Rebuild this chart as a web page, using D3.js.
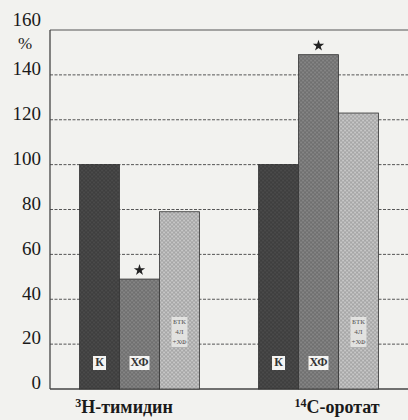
<!DOCTYPE html>
<html>
<head>
<meta charset="utf-8">
<script src="https://cdn.jsdelivr.net/npm/d3@7"></script>
<style>
  html, body { margin: 0; padding: 0; background: #f2f2ef; }
  svg { display: block; }
  text { font-family: "Liberation Serif", "DejaVu Serif", serif; }
</style>
</head>
<body>
<svg id="chart" width="408" height="420"></svg>
<script>
// Groups (labelled substrates) and series
const groups = ["3H", "14C"];
const groupLabels = [{ sup: "3", main: "H-тимидин" }, { sup: "14", main: "C-оротат" }];
const series = ["К", "ХФ", "БТК"];
const seriesTags = [["К"], ["ХФ"], ["БТК", "4Л", "+ХФ"]];
const valuesTimidin = [100, 49, 79];
const valuesOrotat = [100, 149, 123];
const significant = [[false, true, false], [false, true, false]];
const yTicks = [0, 20, 40, 60, 80, 100, 120, 140, 160];

const values = [valuesTimidin, valuesOrotat];
const fills = ["#434343", "#787878", "#b3b3b3"];

const svg = d3.select("#chart");
const plotLeft = 50, plotRight = 408, plotTop = 30, plotBottom = 389;

const y = d3.scaleLinear().domain([0, 160]).range([plotBottom, plotTop]);
const x0 = d3.scaleBand().domain(groups).range([plotLeft, plotRight])
  .paddingInner(0.33).paddingOuter(0.165);
const x1 = d3.scaleBand().domain(series).range([0, x0.bandwidth()]).padding(0);

// Grainy fill patterns for the bars
const defs = svg.append("defs");
fills.forEach((c, i) => {
  const p = defs.append("pattern").attr("id", "tex" + i)
    .attr("width", 4).attr("height", 4).attr("patternUnits", "userSpaceOnUse");
  p.append("rect").attr("width", 4).attr("height", 4).attr("fill", c);
  const lt = d3.color(c).brighter(0.5);
  p.append("rect").attr("x", 0).attr("y", 0).attr("width", 1).attr("height", 1).attr("fill", lt);
  p.append("rect").attr("x", 2).attr("y", 2).attr("width", 1).attr("height", 1).attr("fill", lt);
  const dk = d3.color(c).darker(0.4);
  p.append("rect").attr("x", 2).attr("y", 0).attr("width", 1).attr("height", 1).attr("fill", dk);
  p.append("rect").attr("x", 0).attr("y", 2).attr("width", 1).attr("height", 1).attr("fill", dk);
});

// Horizontal grid lines
svg.append("g").selectAll("line").data(yTicks.filter(d => d > 0)).join("line")
  .attr("x1", plotLeft).attr("x2", plotRight)
  .attr("y1", d => y(d)).attr("y2", d => y(d))
  .attr("stroke", "#555").attr("stroke-width", 1)
  .attr("stroke-dasharray", d => d === 160 ? null : "3,1.5");

// Y axis line and baseline
svg.append("line").attr("x1", plotLeft).attr("x2", plotLeft).attr("y1", y(160)).attr("y2", y(0))
  .attr("stroke", "#444").attr("stroke-width", 1.3);
svg.append("line").attr("x1", plotLeft).attr("x2", plotRight).attr("y1", y(0)).attr("y2", y(0))
  .attr("stroke", "#444").attr("stroke-width", 1.3);

// Tick labels
svg.append("g").selectAll("text").data(yTicks).join("text")
  .attr("x", 41).attr("y", d => y(d) - (d === 160 ? 8 : 4))
  .attr("text-anchor", "end").attr("dominant-baseline", "middle")
  .attr("font-size", 19).attr("fill", "#1a1a1a")
  .text(d => d);
svg.append("text").attr("x", 25).attr("y", y(160) + 15)
  .attr("text-anchor", "middle").attr("dominant-baseline", "middle")
  .attr("font-size", 17).attr("fill", "#1a1a1a").text("%");

// Bars
const gGroups = svg.append("g").selectAll("g").data(groups).join("g")
  .attr("transform", g => `translate(${x0(g)},0)`);

gGroups.each(function (g, gi) {
  const sel = d3.select(this);
  const rows = series.map((s, si) => ({ s, si, v: values[gi][si], sig: significant[gi][si] }));
  sel.selectAll("rect.bar").data(rows).join("rect").attr("class", "bar")
    .attr("x", d => x1(d.s)).attr("width", x1.bandwidth())
    .attr("y", d => y(d.v)).attr("height", d => y(0) - y(d.v))
    .attr("fill", d => `url(#tex${d.si})`)
    .attr("stroke", "#333").attr("stroke-width", 0.8);

  // Significance stars
  sel.selectAll("path.star").data(rows.filter(d => d.sig)).join("path").attr("class", "star")
    .attr("d", d3.symbol(d3.symbolStar, 40))
    .attr("transform", d => `translate(${x1(d.s) + x1.bandwidth() / 2},${y(d.v) - 9})`)
    .attr("fill", "#222");

  // Series tags inside the bars
  rows.forEach(d => {
    const cx = x1(d.s) + x1.bandwidth() / 2;
    const lines = seriesTags[d.si];
    if (lines.length === 1) {
      const w = d.si === 0 ? 13 : 20;
      sel.append("rect").attr("x", cx - w / 2).attr("y", 356).attr("width", w).attr("height", 14)
        .attr("fill", "#f4f4f2");
      sel.append("text").attr("x", cx).attr("y", 363.5)
        .attr("text-anchor", "middle").attr("dominant-baseline", "middle")
        .attr("font-size", 12).attr("font-weight", "bold").attr("fill", "#333")
        .text(lines[0]);
    } else {
      sel.append("rect").attr("x", cx - 8).attr("y", 317).attr("width", 16).attr("height", 30)
        .attr("fill", "#e2e2e0");
      lines.forEach((t, li) => {
        sel.append("text").attr("x", cx).attr("y", 322 + li * 10)
          .attr("text-anchor", "middle").attr("dominant-baseline", "middle")
          .attr("font-size", 7).attr("fill", "#555").text(t);
      });
    }
  });
});

// Group labels under the axis
const labelX = [124, 337];
groupLabels.forEach((l, i) => {
  const t = svg.append("text").attr("x", labelX[i]).attr("y", 413)
    .attr("text-anchor", "middle").attr("font-size", 18).attr("font-weight", "bold").attr("fill", "#1a1a1a");
  t.append("tspan").attr("font-size", 12).attr("dy", -6).text(l.sup);
  t.append("tspan").attr("dy", 6).text(l.main);
});
</script>
</body>
</html>
